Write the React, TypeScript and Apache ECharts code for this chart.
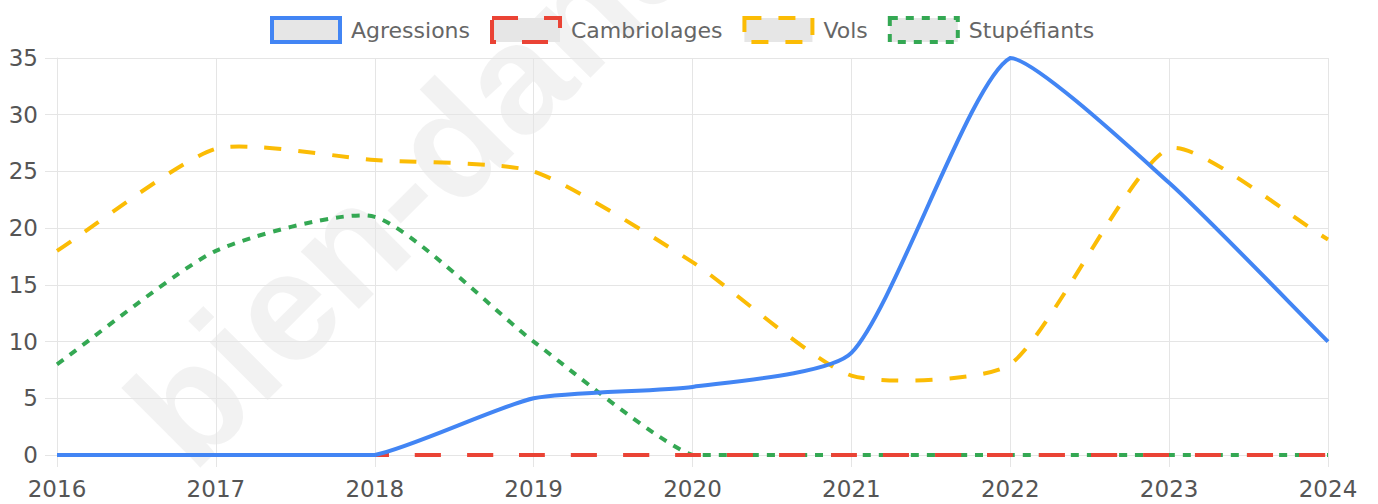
import React, { useEffect, useRef } from "react";
import * as echarts from "echarts";

const years = ["2016", "2017", "2018", "2019", "2020", "2021", "2022", "2023", "2024"];
const agressions = [0, 0, 0, 5, 6, 9, 35, 24, 10];
const cambriolages = [0, 0, 0, 0, 0, 0, 0, 0, 0];
const vols = [18, 27, 26, 25, 17, 7, 8, 27, 19];
const stupefiants = [8, 18, 21, 10, 0, 0, 0, 0, 0];

const seriesNames = ["Agressions", "Cambriolages", "Vols", "Stupéfiants"];
const seriesColors = ["#4285F4", "#EA4335", "#FBBC05", "#34A853"];
const seriesDash: (number[] | "solid")[] = ["solid", [26, 26], [17, 17], [8, 8]];
const seriesData = [agressions, cambriolages, vols, stupefiants];

const FONT = "DejaVu Sans";
const TENSION = 0.2;

// Chart.js-like spline (tension) with control points capped to the plot area
function splinePath(pts: number[][], area: { x: number; y: number; w: number; h: number }) {
  const n = pts.length;
  const cps: { p: number[]; nx: number[] }[] = [];
  const cap = (v: number[]) => [
    Math.min(Math.max(v[0], area.x), area.x + area.w),
    Math.min(Math.max(v[1], area.y), area.y + area.h),
  ];
  for (let i = 0; i < n; i++) {
    const cur = pts[i];
    const prev = i > 0 ? pts[i - 1] : cur;
    const next = i < n - 1 ? pts[i + 1] : cur;
    const d01 = Math.hypot(cur[0] - prev[0], cur[1] - prev[1]);
    const d12 = Math.hypot(next[0] - cur[0], next[1] - cur[1]);
    let s01 = d01 / (d01 + d12);
    let s12 = d12 / (d01 + d12);
    if (isNaN(s01)) s01 = 0;
    if (isNaN(s12)) s12 = 0;
    const fa = TENSION * s01;
    const fb = TENSION * s12;
    cps.push({
      p: cap([cur[0] - fa * (next[0] - prev[0]), cur[1] - fa * (next[1] - prev[1])]),
      nx: cap([cur[0] + fb * (next[0] - prev[0]), cur[1] + fb * (next[1] - prev[1])]),
    });
  }
  let d = `M${pts[0][0]} ${pts[0][1]}`;
  for (let i = 1; i < n; i++) {
    const a = cps[i - 1].nx;
    const b = cps[i].p;
    d += ` C${a[0]} ${a[1]} ${b[0]} ${b[1]} ${pts[i][0]} ${pts[i][1]}`;
  }
  return d;
}

export default function App() {
  const ref = useRef<HTMLDivElement>(null);
  useEffect(() => {
    if (!ref.current) return;
    const chart = echarts.init(ref.current, null, { renderer: "svg" });
    chart.setOption({
      animation: false,
      graphic: [
        {
          type: "text",
          x: 210,
          y: 492,
          rotation: Math.PI / 4,
          z: -10,
          silent: true,
          style: {
            text: "bien-dans-ma-ville",
            font: 'bold 155px "Liberation Sans"',
            fill: "rgba(0,0,0,0.05)",
            align: "left",
            verticalAlign: "bottom",
          },
        },
      ],
      legend: {
        top: 16,
        left: 270,
        padding: 0,
        icon: "rect",
        itemWidth: 68,
        itemHeight: 24,
        itemGap: 20,
        textStyle: { color: "#666", fontSize: 22, fontFamily: FONT, padding: [0, 0, 0, 6] },
        data: seriesNames.map((n, i) => ({
          name: n,
          itemStyle: {
            color: "#e6e6e6",
            borderColor: seriesColors[i],
            borderWidth: 4,
            borderType: seriesDash[i],
          },
        })),
      },
      grid: { left: 57, right: 50, top: 58, bottom: 49, containLabel: false },
      xAxis: {
        type: "category",
        data: years,
        boundaryGap: false,
        axisLine: { show: true, lineStyle: { color: "#e5e5e5", width: 1 } },
        axisTick: { show: true, length: 12, lineStyle: { color: "#e5e5e5" } },
        splitLine: { show: true, lineStyle: { color: "#e5e5e5", width: 1 } },
        axisLabel: { color: "#555", fontSize: 23, fontFamily: FONT, margin: 22 },
      },
      yAxis: {
        type: "value",
        min: 0,
        max: 35,
        interval: 5,
        axisLine: { show: true, lineStyle: { color: "#e5e5e5", width: 1 } },
        axisTick: { show: true, length: 12, lineStyle: { color: "#e5e5e5" } },
        splitLine: { show: true, lineStyle: { color: "#e5e5e5", width: 1 } },
        axisLabel: { color: "#555", fontSize: 23, fontFamily: FONT, margin: 19 },
      },
      series: seriesNames.map((n, s) => ({
        name: n,
        type: "custom",
        coordinateSystem: "cartesian2d",
        data: seriesData[s].map((v, i) => [i, v]),
        encode: { x: 0, y: 1 },
        z: 10 - s,
        clip: false,
        itemStyle: { color: seriesColors[s] },
        renderItem: (params: any, api: any) => {
          if (params.dataIndex !== 0) return null;
          const pts = seriesData[s].map((v, i) => api.coord([i, v]));
          const cs = params.coordSys;
          const d = splinePath(pts, { x: cs.x, y: cs.y, w: cs.width, h: cs.height });
          const dash = seriesDash[s];
          return {
            type: "path",
            shape: { pathData: d },
            style: {
              fill: "none",
              stroke: seriesColors[s],
              lineWidth: 4,
              lineDash: dash === "solid" ? null : dash,
              lineDashOffset: s === 1 ? 6 : 0,
              lineCap: "butt",
            },
          };
        },
      })),
    });
    return () => chart.dispose();
  }, []);
  return <div ref={ref} style={{ width: 1378, height: 504, position: "absolute", left: 0, top: 0 }} />;
}
